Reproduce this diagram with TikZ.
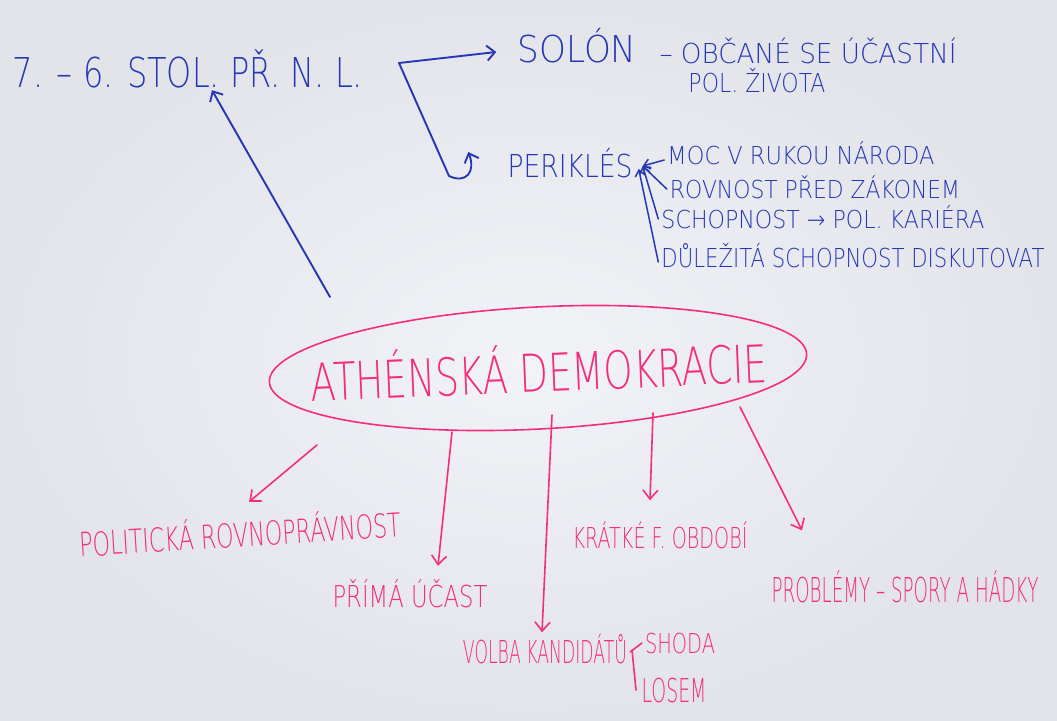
\documentclass[tikz,border=0pt]{standalone}
\usepackage{fontspec}
\setmainfont{DejaVu Sans ExtraLight}
\usetikzlibrary{arrows.meta,shapes.geometric}
\definecolor{ink}{RGB}{38,55,180}
\definecolor{pinkink}{RGB}{245,45,125}
\definecolor{paperin}{RGB}{242,243,247}
\definecolor{paperout}{RGB}{226,228,234}
\newcommand\hw[3]{\resizebox{#1pt}{#2pt}{\raisebox{0pt}[\fontcharht\font`H][0pt]{#3}}}
\begin{document}
\begin{tikzpicture}[x=1pt,y=-1pt,
  bt/.style={inner sep=3pt, text=ink},
  pt/.style={inner sep=3pt, text=pinkink},
  barrow/.style={draw=ink, line width=1.9pt, line cap=round, line join=round, -{Straight Barb[length=8pt,width=15pt]}},
  sbarrow/.style={draw=ink, line width=1.5pt, line cap=round, -{Straight Barb[length=6pt,width=10pt]}},
  parrow/.style={draw=pinkink, line width=1.6pt, line cap=round, -{Straight Barb[length=9pt,width=15pt]}},
  pline/.style={draw=pinkink, line width=1.6pt, line cap=round}]
\shade[inner color=paperin, outer color=paperout] (0,0) rectangle (1057,720);
\useasboundingbox (0,0) rectangle (1057,720);

% blue texts
\node[bt] (t1) at (188,72) {\hw{350}{30}{7. – 6. STOL. PŘ. N. L.}};
\node[bt] (solon) at (577,49) {\hw{119}{27}{SOLÓN}};
\node[bt] (obcane) at (808,53) {\hw{297}{20}{– OBČANÉ SE ÚČASTNÍ}};
\node[bt] (zivota) at (757,83) {\hw{137}{19}{POL. ŽIVOTA}};
\node[bt] (perikles) at (570,166) {\hw{125}{23}{PERIKLÉS}};
\node[bt] (moc) at (801,155) {\hw{267}{18}{MOC V RUKOU NÁRODA}};
\node[bt] (rovnost) at (815,189) {\hw{290}{18}{ROVNOST PŘED ZÁKONEM}};
\node[bt] (schop) at (823,219) {\hw{323}{18}{SCHOPNOST → POL. KARIÉRA}};
\node[bt] (dulez) at (853,258) {\hw{383}{19}{DŮLEŽITÁ SCHOPNOST DISKUTOVAT}};

% central ellipse
\node[draw=pinkink, line width=1.6pt, ellipse, minimum width=538pt, minimum height=122pt, rotate=3, inner sep=0pt] (ell) at (538,368) {};
\node[pt, rotate=2.4] (athen) at (539,373) {\hw{457}{38}{ATHÉNSKÁ DEMOKRACIE}};

% pink texts
\node[pt, rotate=3.5] (polit) at (240,535) {\hw{322}{24}{POLITICKÁ ROVNOPRÁVNOST}};
\node[pt] (prima) at (410,596) {\hw{155}{22}{PŘÍMÁ ÚČAST}};
\node[pt] (volba) at (545,652) {\hw{164}{23}{VOLBA KANDIDÁTŮ}};
\node[pt] (shoda) at (680,643) {\hw{70}{20}{SHODA}};
\node[pt] (losem) at (674,690) {\hw{65}{24}{LOSEM}};
\node[pt] (kratke) at (660,538) {\hw{175}{21}{KRÁTKÉ F. OBDOBÍ}};
\node[pt] (probl) at (905,590) {\hw{267}{25}{PROBLÉMY – SPORY A HÁDKY}};

% blue connectors
\coordinate (b0) at (330,297);
\draw[barrow] (b0) -- ([xshift=24pt]t1.south);
\coordinate (k) at (399,63);
\draw[barrow] (k) -- ([xshift=-18pt,yshift=-3pt]solon.west);
\coordinate (k2) at (449,176);
\draw[barrow] (k) -- (k2) .. controls (466,184) and (476,172) .. ([xshift=-36pt,yshift=14pt]perikles.west);
\draw[sbarrow] ([yshift=-5pt]moc.west) -- ([xshift=7pt]perikles.east);
\draw[sbarrow] (rovnost.west) -- ([xshift=7pt]perikles.east);
\draw[sbarrow] (schop.west) -- ([xshift=7pt]perikles.east);
\draw[sbarrow] ([yshift=-4pt]dulez.west) -- ([xshift=3pt,yshift=-3pt]perikles.east);

% pink connectors
\coordinate (p1) at (317,445);
\draw[parrow] (p1) -- ([xshift=10pt,yshift=18pt]polit.north);
\coordinate (p2) at (452,432);
\draw[parrow] (p2) -- ([xshift=28pt,yshift=16pt]prima.north);
\coordinate (p3) at (552,415);
\draw[parrow] (p3) -- ([xshift=-3pt,yshift=5pt]volba.north);
\coordinate (p4) at (653,413);
\draw[parrow] (p4) -- ([xshift=-10pt,yshift=24pt]kratke.north);
\coordinate (p5) at (740,407);
\draw[parrow] (p5) -- ([xshift=-103pt,yshift=44pt]probl.north);
\coordinate (br) at (632,650);
\draw[pline] (volba.east) -- (shoda.west);
\draw[pline] (br) -- ([xshift=4pt]br |- losem);
\end{tikzpicture}
\end{document}
